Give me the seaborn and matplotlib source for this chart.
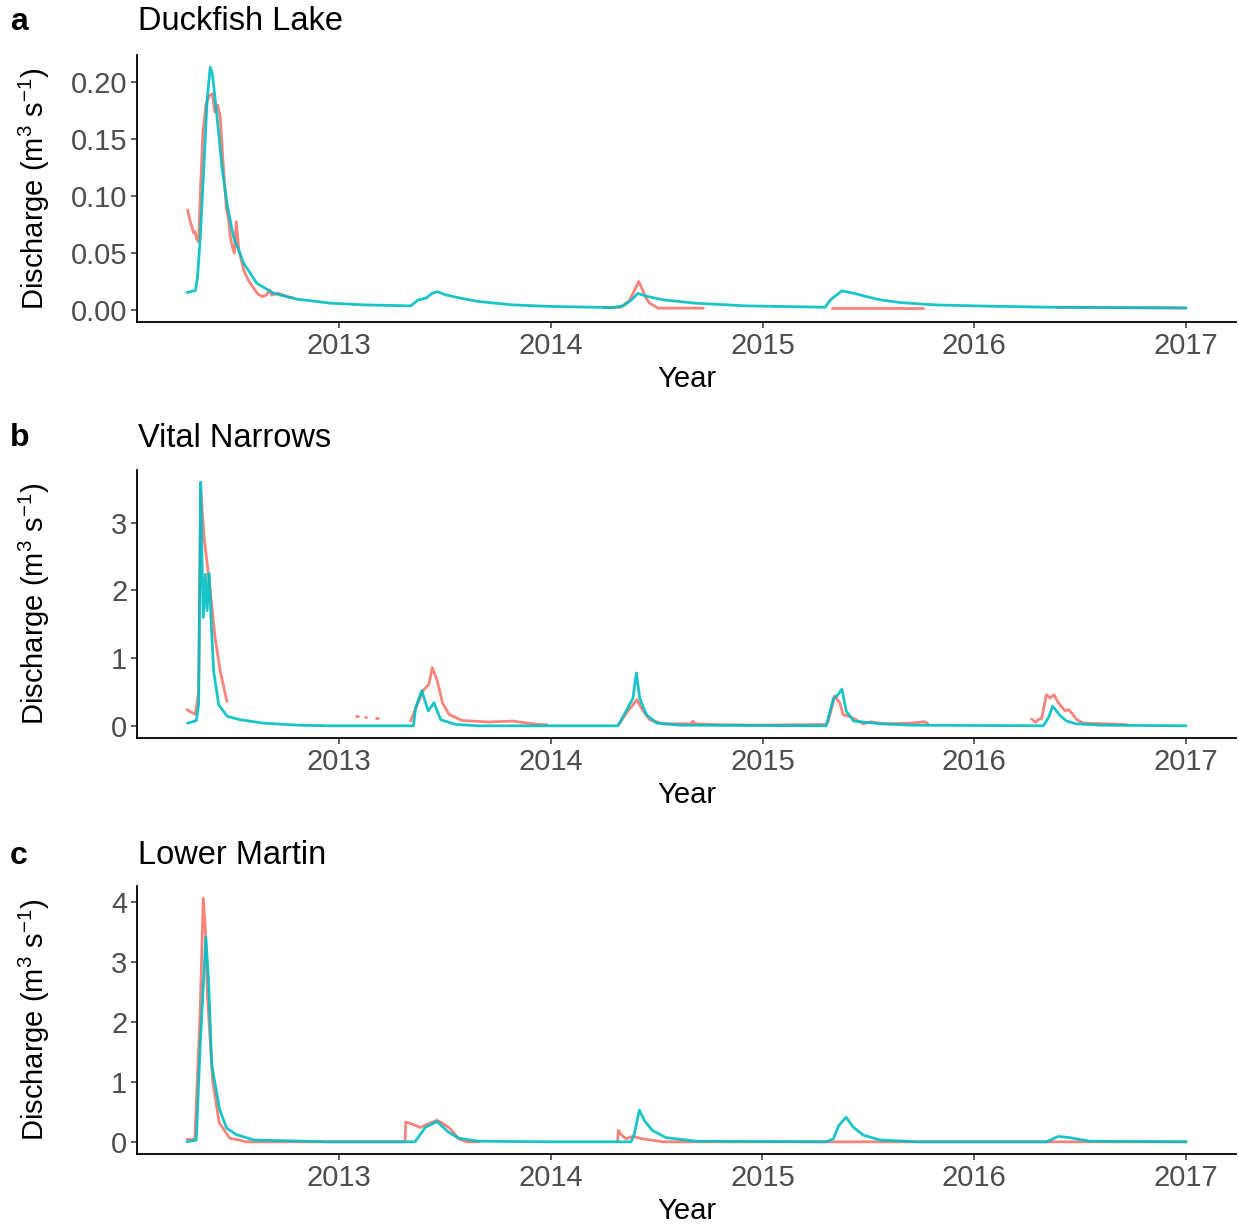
import numpy as np
import pandas as pd
import matplotlib
matplotlib.use("Agg")
import matplotlib.pyplot as plt
import seaborn as sns

# ---------------------------------------------------------------------------
# Daily discharge (m3 s-1), digitised as decimal years.
# None in a time list marks a gap in the record (a new line segment).
# ---------------------------------------------------------------------------

# Duckfish Lake
duck_mod_t = [2012.28, 2012.32, 2012.33, 2012.343, 2012.36, 2012.375, 2012.39, 2012.40,
              2012.422, 2012.445, 2012.469, 2012.50, 2012.548, 2012.61, 2012.69, 2012.80,
              2012.957, 2013.115, 2013.337, 2013.373, 2013.408, 2013.439, 2013.463, 2013.502,
              2013.58, 2013.66, 2013.818, 2014.0, 2014.29, 2014.34, 2014.38, 2014.41, 2014.45,
              2014.53, 2014.687, 2014.924, 2015.295, 2015.32, 2015.374, 2015.43, 2015.49,
              2015.556, 2015.65, 2015.81, 2016.0, 2016.36, 2017.0]
duck_mod_q = [0.0152, 0.017, 0.029, 0.064, 0.126, 0.184, 0.2134, 0.2076,
              0.170, 0.126, 0.0936, 0.064, 0.041, 0.0234, 0.0146, 0.0094,
              0.0059, 0.0044, 0.0035, 0.0088, 0.0102, 0.0146, 0.016, 0.0132,
              0.0100, 0.0073, 0.0044, 0.0030, 0.0020, 0.0035, 0.0088, 0.0145, 0.0120,
              0.0088, 0.0058, 0.0035, 0.0023, 0.0088, 0.0167, 0.0146, 0.0117,
              0.0088, 0.0064, 0.0044, 0.0035, 0.0023, 0.0017]

duck_obs_t = [2012.283, 2012.295, 2012.304, 2012.31, 2012.318, 2012.326, 2012.335, 2012.345,
              2012.355, 2012.37, 2012.385, 2012.40, 2012.412, 2012.425, 2012.437, 2012.452,
              2012.466, 2012.477, 2012.485, 2012.495, 2012.504, 2012.513, 2012.525, 2012.548,
              2012.57, 2012.595, 2012.615, 2012.635, 2012.655, 2012.67, 2012.68, 2012.71,
              2012.753, 2012.78, None,
              2014.25, 2014.33, 2014.37, 2014.395, 2014.415, 2014.434, 2014.45, 2014.466,
              2014.506, 2014.72, None,
              2015.327, 2015.756, None,
              2016.39, 2017.0]
duck_obs_q = [0.0877, 0.078, 0.073, 0.068, 0.0687, 0.062, 0.060, 0.111,
              0.155, 0.181, 0.188, 0.190, 0.174, 0.180, 0.170, 0.126,
              0.090, 0.079, 0.064, 0.055, 0.050, 0.0775, 0.053, 0.035,
              0.026, 0.019, 0.014, 0.0117, 0.013, 0.0175, 0.013, 0.0146,
              0.0117, 0.0105, None,
              0.0020, 0.0023, 0.0080, 0.0175, 0.0249, 0.0167, 0.0100, 0.0058,
              0.0015, 0.0015, None,
              0.0012, 0.0012, None,
              0.0022, 0.0016]

# Vital Narrows
vital_mod_t = [2012.283, 2012.324, 2012.335, 2012.345, 2012.352, 2012.357, 2012.367, 2012.375,
               2012.385, 2012.395, 2012.406, 2012.43, 2012.47, 2012.532, 2012.64, 2012.80,
               2012.957, 2013.35, 2013.36, 2013.389, 2013.42, 2013.447, 2013.479, 2013.55,
               2013.66, 2014.316, 2014.355, 2014.387, 2014.403, 2014.419, 2014.45, 2014.50,
               2014.61, 2015.30, 2015.335, 2015.35, 2015.374, 2015.395, 2015.43, 2015.556,
               2015.70, 2016.326, 2016.35, 2016.37, 2016.405, 2016.436, 2016.48, 2016.60,
               2017.0]
vital_mod_q = [0.04, 0.077, 0.31, 3.6, 2.3, 1.6, 2.24, 1.7,
               2.25, 1.5, 0.81, 0.31, 0.14, 0.09, 0.04, 0.01,
               0.0, 0.0, 0.26, 0.52, 0.22, 0.34, 0.09, 0.02,
               0.0, 0.0, 0.22, 0.41, 0.78, 0.41, 0.165, 0.04,
               0.01, 0.0, 0.41, 0.44, 0.54, 0.215, 0.07, 0.03,
               0.01, 0.0, 0.12, 0.29, 0.15, 0.07, 0.03, 0.01,
               0.0]

vital_obs_t = [2012.28, 2012.30, 2012.32, 2012.335, 2012.345, 2012.361, 2012.385, 2012.413,
               2012.437, 2012.469, None,
               2013.080, 2013.086, None,
               2013.120, 2013.126, None,
               2013.175, 2013.181, None,
               2013.337, 2013.36, 2013.40, 2013.423, 2013.439, 2013.463, 2013.487, 2013.518,
               2013.58, 2013.707, 2013.818, 2013.945, 2013.98, None,
               2014.32, 2014.363, 2014.387, 2014.406, 2014.427, 2014.466, 2014.53, 2014.66,
               2014.67, 2014.68, 2014.80, 2015.0, 2015.30, 2015.31, 2015.34, 2015.364,
               2015.38, 2015.41, 2015.476, 2015.51, 2015.57, 2015.70, 2015.765, 2015.78, None,
               2016.27, 2016.29, 2016.30, 2016.318, 2016.34, 2016.357, 2016.376, 2016.397,
               2016.428, 2016.444, 2016.46, 2016.484, 2016.515, 2016.625, 2016.72]
vital_obs_q = [0.24, 0.20, 0.17, 0.5, 3.5, 2.78, 2.14, 1.30,
               0.81, 0.36, None,
               0.14, 0.14, None,
               0.13, 0.13, None,
               0.12, 0.12, None,
               0.07, 0.26, 0.54, 0.61, 0.86, 0.66, 0.34, 0.17,
               0.077, 0.057, 0.07, 0.018, 0.015, None,
               0.02, 0.22, 0.31, 0.388, 0.26, 0.09, 0.03, 0.03,
               0.07, 0.03, 0.015, 0.01, 0.02, 0.07, 0.44, 0.34,
               0.165, 0.14, 0.03, 0.06, 0.03, 0.04, 0.06, 0.03, None,
               0.10, 0.05, 0.09, 0.11, 0.46, 0.41, 0.46, 0.34,
               0.22, 0.24, 0.19, 0.09, 0.04, 0.03, 0.018]

# Lower Martin
martin_mod_t = [2012.283, 2012.327, 2012.345, 2012.372, 2012.385, 2012.40, 2012.437, 2012.47,
                2012.516, 2012.60, 2012.957, 2013.36, 2013.408, 2013.463, 2013.518, 2013.566,
                2013.66, 2014.0, 2014.38, 2014.395, 2014.419, 2014.442, 2014.48, 2014.545,
                2014.687, 2015.30, 2015.335, 2015.36, 2015.395, 2015.43, 2015.477, 2015.556,
                2015.73, 2016.34, 2016.397, 2016.45, 2016.546, 2017.0]
martin_mod_q = [0.0, 0.03, 1.57, 3.42, 2.70, 1.28, 0.54, 0.23,
                0.12, 0.03, 0.0, 0.0, 0.24, 0.34, 0.16, 0.06,
                0.01, 0.0, 0.0, 0.13, 0.53, 0.36, 0.19, 0.07,
                0.01, 0.0, 0.05, 0.27, 0.41, 0.24, 0.11, 0.03,
                0.0, 0.0, 0.09, 0.07, 0.01, 0.0]

martin_obs_t = [2012.283, 2012.32, 2012.345, 2012.36, 2012.37, 2012.38, 2012.405, 2012.435,
                2012.485, 2012.53, 2012.56, 2013.313, 2013.316, 2013.344, 2013.384, 2013.423,
                2013.463, 2013.494, 2013.526, 2013.566, 2013.605, 2013.66, None,
                2014.316, 2014.32, 2014.33, 2014.355, 2014.387, 2014.434, 2014.53, 2017.0]
martin_obs_q = [0.04, 0.04, 2.14, 4.07, 3.56, 2.42, 1.0, 0.32,
                0.06, 0.03, 0.0, 0.0, 0.33, 0.30, 0.24, 0.30,
                0.36, 0.30, 0.22, 0.05, 0.0, 0.0, None,
                0.0, 0.19, 0.13, 0.05, 0.09, 0.05, 0.0, 0.0]

sites = ["Duckfish Lake", "Vital Narrows", "Lower Martin"]
tags = ["a", "b", "c"]
year_ticks = [2013, 2014, 2015, 2016, 2017]
y_ticks = [[0.00, 0.05, 0.10, 0.15, 0.20], [0, 1, 2, 3], [0, 1, 2, 3, 4]]
y_fmt = ["{:.2f}", "{:.0f}", "{:.0f}"]

series_data = [
    (duck_obs_t, duck_obs_q, duck_mod_t, duck_mod_q),
    (vital_obs_t, vital_obs_q, vital_mod_t, vital_mod_q),
    (martin_obs_t, martin_obs_q, martin_mod_t, martin_mod_q),
]


def to_frame(t, q, series):
    """Long table with one 'unit' per continuous stretch of record."""
    rows, seg = [], 0
    for ti, qi in zip(t, q):
        if ti is None:
            seg += 1
            continue
        rows.append((ti, qi, series, f"{series}-{seg}"))
    return pd.DataFrame(rows, columns=["year", "q", "series", "unit"])


sns.set_theme(style="ticks")
plt.rcParams["font.family"] = ["Liberation Sans", "DejaVu Sans"]
plt.rcParams["mathtext.fontset"] = "custom"
plt.rcParams["mathtext.rm"] = "Liberation Sans"
plt.rcParams["mathtext.it"] = "Liberation Sans:italic"
plt.rcParams["mathtext.default"] = "regular"

W, H = 1239, 1232
fig = plt.figure(figsize=(W / 100, H / 100), dpi=100)

palette = {"Observed": "#F8766D", "Modelled": "#00BFC4"}
# axes boxes in pixels: (top, bottom)
boxes = [(55, 322), (470, 738), (886, 1154)]
title_y = [22, 438, 856]
left_px, right_px = 137, 1236

for i in range(3):
    ot, oq, mt, mq = series_data[i]
    df = pd.concat([to_frame(ot, oq, "Observed"), to_frame(mt, mq, "Modelled")],
                   ignore_index=True)
    top, bot = boxes[i]
    ax = fig.add_axes([left_px / W, 1 - bot / H, (right_px - left_px) / W, (bot - top) / H])
    sns.lineplot(data=df, x="year", y="q", hue="series", units="unit", estimator=None,
                 hue_order=["Observed", "Modelled"], palette=palette, sort=False,
                 linewidth=2.0, alpha=0.9, legend=False, ax=ax)

    # ggplot-style 5% expansion of the data range
    x0, x1 = df["year"].min(), df["year"].max()
    xp = 0.05 * (x1 - x0)
    ax.set_xlim(x0 - xp, x1 + xp)
    y1 = df["q"].max()
    ax.set_ylim(-0.05 * y1, 1.05 * y1)

    ax.set_xticks(year_ticks)
    ax.set_xticklabels([str(y) for y in year_ticks])
    ax.set_yticks(y_ticks[i])
    ax.set_yticklabels([y_fmt[i].format(v) for v in y_ticks[i]])
    ax.tick_params(axis="both", labelsize=21, labelcolor="#4D4D4D", color="#333333",
                   length=4, width=1.1, pad=3)
    ax.set_xlabel("Year", fontsize=21, color="black", labelpad=4)
    ax.set_ylabel("Discharge (m$^3$ s$^{-1}$)", fontsize=21, color="black")
    ax.yaxis.set_label_coords(-0.077, 0.5)
    for side in ("top", "right"):
        ax.spines[side].set_visible(False)
    for side in ("left", "bottom"):
        ax.spines[side].set_color("black")
        ax.spines[side].set_linewidth(1.3)
    ax.grid(False)

    fig.text(138 / W, 1 - title_y[i] / H, sites[i], fontsize=23.5, ha="left", va="center",
             color="black")
    fig.text(10 / W, 1 - title_y[i] / H, tags[i], fontsize=23, fontweight="bold",
             ha="left", va="center", color="black")

fig.savefig("out.png", dpi=100, facecolor="white")
